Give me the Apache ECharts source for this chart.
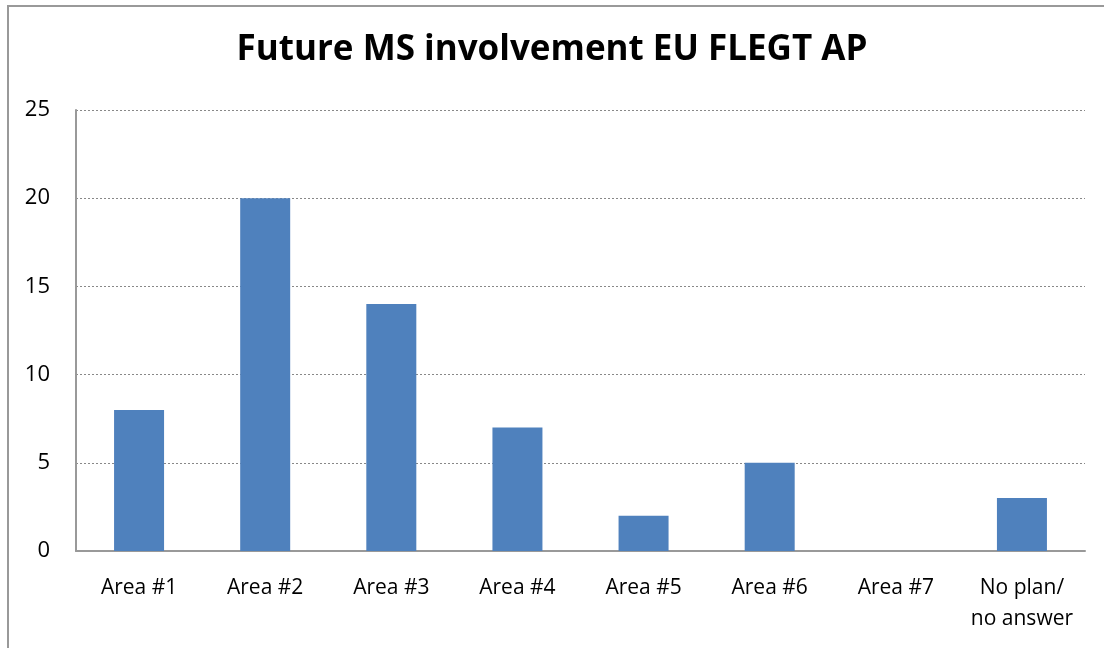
<!DOCTYPE html>
<html>
<head>
<meta charset="utf-8">
<script src="https://cdn.jsdelivr.net/npm/echarts@6/dist/echarts.min.js"></script>
<style>
  html, body { margin: 0; padding: 0; overflow: hidden; background: #fff; }
  #frame { position: absolute; left: 7px; top: 5px; width: 1120px; height: 660px; border: 2px solid #999; }
  #main { position: absolute; left: 0; top: 0; width: 1104px; height: 648px; }
</style>
</head>
<body>
<div id="frame"></div>
<div id="main"></div>
<script>
var categories = ['Area #1', 'Area #2', 'Area #3', 'Area #4', 'Area #5', 'Area #6', 'Area #7', 'No plan/\nno answer']
var counts = [8, 20, 14, 7, 2, 5, 0, 3]

var myChart = echarts.init(document.getElementById('main'))
var option = {
  animation: false,
  title: {
    text: 'Future MS involvement EU FLEGT AP',
    left: 'center',
    top: 28,
    textStyle: { fontFamily: 'Open Sans', fontSize: 35, fontWeight: 'bold', color: '#000' }
  },
  grid: { left: 76, right: 19, top: 110, bottom: 97 },
  xAxis: {
    type: 'category',
    data: categories,
    axisLine: { lineStyle: { color: '#999', width: 2 } },
    axisTick: { show: false },
    axisLabel: { color: '#000', fontFamily: 'Open Sans', fontSize: 21, margin: 22, lineHeight: 31, interval: 0 }
  },
  yAxis: {
    type: 'value',
    min: 0,
    max: 25,
    interval: 5,
    axisLine: { show: true, lineStyle: { color: '#999', width: 2 } },
    axisTick: { show: false },
    axisLabel: { color: '#000', fontFamily: 'Open Sans', fontSize: 22, margin: 26 },
    splitLine: { lineStyle: { color: '#888', type: [2, 2], width: 1 } }
  },
  series: [{
    type: 'bar',
    data: counts,
    barWidth: 50,
    itemStyle: { color: '#4F81BD' }
  }]
}
myChart.setOption(option)
</script>
</body>
</html>
